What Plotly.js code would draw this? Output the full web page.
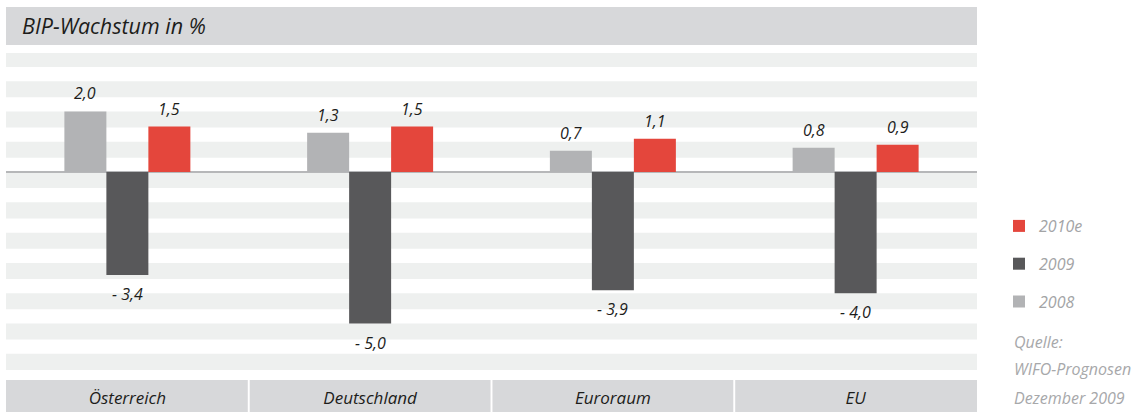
<!DOCTYPE html>
<html>
<head>
<meta charset="utf-8">
<script src="https://cdn.plot.ly/plotly-3.0.1.min.js"></script>
<style>html,body{margin:0;padding:0;background:#fff;}</style>
</head>
<body>
<div id="chart" style="width:1141px;height:412px;"></div>
<script>
// ---- data ----
var categories = ["Österreich", "Deutschland", "Euroraum", "EU"];
var seriesNames = ["2008", "2009", "2010e"];
var values2008 = [2.0, 1.3, 0.7, 0.8];
var values2009 = [-3.4, -5.0, -3.9, -4.0];
var values2010e = [1.5, 1.5, 1.1, 0.9];
var chartTitle = "BIP-Wachstum in %";
var sourceLines = ["Quelle:", "WIFO-Prognosen", "Dezember 2009"];

// ---- styles ----
var seriesValues = [values2008, values2009, values2010e];
var seriesColors = ["#b2b3b5", "#58585a", "#e4463c"];
var FONT = "Open Sans, Noto Sans, DejaVu Sans, sans-serif";
var BARGAP = 0.481;
var textColor = "#1d1d1b";

function fmt(v) {
  var s = Math.abs(v).toFixed(1).replace(".", ",");
  return v < 0 ? "- " + s : s;
}

var traces = seriesNames.map(function (name, i) {
  return {
    type: "bar",
    name: name,
    x: categories,
    y: seriesValues[i],
    marker: { color: seriesColors[i] },
    legendgroup: "g" + i,
    legendrank: 1000 - i,
    hoverinfo: "skip"
  };
});

var shapes = [];
// title band
shapes.push({ type: "rect", xref: "paper", yref: "paper", x0: 0, x1: 1,
  y0: 1.0251, y1: 1.1442, fillcolor: "#d7d8da", line: { width: 0 }, layer: "below" });
// horizontal stripes (decorative background)
for (var k = 4; k >= -6; k--) {
  shapes.push({ type: "rect", xref: "paper", yref: "y", x0: 0, x1: 1,
    y0: k - 0.53, y1: k, fillcolor: "#eef0ef", line: { width: 0 }, layer: "below" });
}
// category boxes
var g = 0.004;
categories.forEach(function (c, i) {
  shapes.push({ type: "rect", xref: "x", yref: "paper",
    x0: i - 0.5 + (i === 0 ? 0 : g), x1: i + 0.5 - (i === categories.length - 1 ? 0 : g),
    y0: -0.13, y1: -0.0251, fillcolor: "#d7d8da", line: { width: 0 }, layer: "below" });
});

var annotations = [];
var groupW = 1 - BARGAP;
seriesValues.forEach(function (vals, s) {
  vals.forEach(function (v, i) {
    annotations.push({
      x: i + (s - 1) * groupW / 3, y: v, xref: "x", yref: "y",
      text: fmt(v), showarrow: false,
      yanchor: v >= 0 ? "bottom" : "top",
      yshift: v >= 0 ? 5 : -6,
      font: { family: FONT, size: 16, color: textColor, style: "italic" }
    });
  });
});
var srcY = [342, 369, 398];
sourceLines.forEach(function (t, i) {
  annotations.push({
    xref: "paper", yref: "paper", x: (1012 - 6) / 971, xanchor: "left",
    y: (372 - srcY[i]) / 319, yanchor: "middle", text: t, showarrow: false,
    font: { family: FONT, size: 16, color: "#a7a8aa", style: "italic" }
  });
});

var layout = {
  width: 1141, height: 412,
  margin: { l: 6, r: 164, t: 53, b: 40, pad: 0 },
  paper_bgcolor: "#ffffff",
  plot_bgcolor: "rgba(0,0,0,0)",
  title: {
    text: chartTitle, xref: "paper", x: 16 / 971, xanchor: "left",
    yref: "container", y: 1 - 26 / 412, yanchor: "middle",
    font: { family: FONT, size: 21.5, color: textColor, style: "italic" }
  },
  barmode: "group",
  bargap: BARGAP,
  bargroupgap: 0,
  xaxis: {
    type: "category", range: [-0.5, 3.5], fixedrange: true,
    showgrid: false, zeroline: false, showline: false,
    ticks: "outside", ticklen: 11, tickcolor: "rgba(0,0,0,0)",
    tickfont: { family: FONT, size: 17, color: textColor, style: "italic" }
  },
  yaxis: {
    range: [-6.6, 3.93], fixedrange: true,
    showgrid: false, showticklabels: false, ticks: "",
    zeroline: true, zerolinecolor: "#b6b7b9", zerolinewidth: 2, showline: false
  },
  showlegend: true,
  legend: {
    x: (999 - 6) / 971, xanchor: "left",
    y: (372 - 209) / 319, yanchor: "top",
    traceorder: "grouped", tracegroupgap: 14,
    bgcolor: "rgba(0,0,0,0)", borderwidth: 0,
    font: { family: FONT, size: 16, color: "#a3a4a6", style: "italic" }
  },
  shapes: shapes,
  annotations: annotations
};

Plotly.newPlot("chart", traces, layout, { displayModeBar: false, staticPlot: true });
</script>
</body>
</html>
